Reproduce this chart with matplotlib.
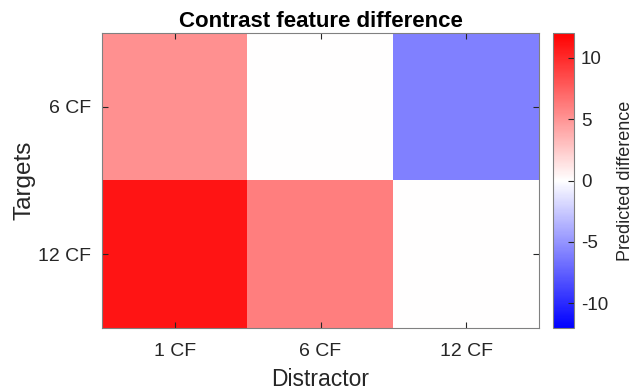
import numpy as np
import matplotlib.pyplot as plt
from matplotlib.colors import LinearSegmentedColormap

plt.rcParams['font.family'] = ['Liberation Sans', 'DejaVu Sans']
plt.rcParams['axes.unicode_minus'] = False

distractors = ['1 CF', '6 CF', '12 CF']
targets = ['6 CF', '12 CF']
diff_6cf = [5.2, 0.0, -6.0]
diff_12cf = [11.0, 6.0, 0.0]

vals = np.array([diff_6cf, diff_12cf])
cmap = LinearSegmentedColormap.from_list('bwr_m', ['#0000ff', '#ffffff', '#ff0000'], N=256)

fig = plt.figure(figsize=(6.34, 3.9), dpi=100)
ax = fig.add_axes([102/634, 62/390, 437/634, 295/390])
cax = fig.add_axes([553/634, 62/390, 21/634, 295/390])

im = ax.imshow(vals, cmap=cmap, vmin=-12, vmax=12, aspect='auto', interpolation='nearest')

ax.set_xticks(range(len(distractors)))
ax.set_xticklabels(distractors)
ax.set_yticks(range(len(targets)))
ax.set_yticklabels(targets)
ax.tick_params(direction='in', top=True, right=True, length=4, width=0.8,
               color='#262626', labelsize=14, labelcolor='#262626')
ax.tick_params(axis='x', pad=10.5)
ax.tick_params(axis='y', pad=8)
for s in ax.spines.values():
    s.set_color('#808080')
    s.set_linewidth(0.8)

ax.set_xlabel('Distractor', fontsize=16.5, color='#262626', labelpad=6)
ax.set_ylabel('Targets', fontsize=17.5, color='#262626', labelpad=2)
ax.set_title('Contrast feature difference', fontsize=16, fontweight='bold', pad=4)

cb = fig.colorbar(im, cax=cax, ticks=[-10, -5, 0, 5, 10])
cb.ax.tick_params(direction='in', length=4, width=0.8, color='#262626',
                  labelsize=13.5, labelcolor='#262626', pad=5)
cb.outline.set_edgecolor('#808080')
cb.outline.set_linewidth(0.8)
cb.set_label('Predicted difference', fontsize=13, color='#262626', labelpad=6)

fig.savefig('out.png', dpi=100)
